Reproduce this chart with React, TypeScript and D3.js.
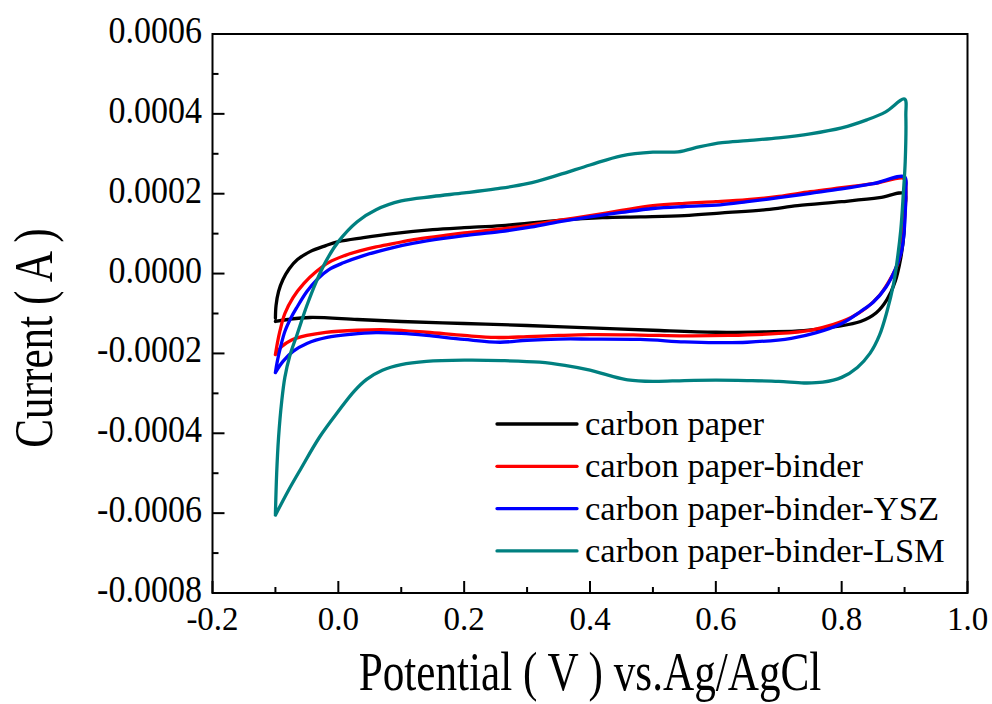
import * as d3 from "d3";

// current values are in units of 1e-4 A
const xTicks = [-0.2, 0.0, 0.2, 0.4, 0.6, 0.8, 1.0];
const xTickLabels = ["-0.2", "0.0", "0.2", "0.4", "0.6", "0.8", "1.0"];
const xMinor = [-0.1, 0.1, 0.3, 0.5, 0.7, 0.9];
const yTicks = [6, 4, 2, 0, -2, -4, -6, -8];
const yTickLabels = ["0.0006", "0.0004", "0.0002", "0.0000", "-0.0002", "-0.0004", "-0.0006", "-0.0008"];
const yMinor = [5, 3, 1, -1, -3, -5, -7];

const seriesNames = [
  "carbon paper",
  "carbon paper-binder",
  "carbon paper-binder-YSZ",
  "carbon paper-binder-LSM",
];
const seriesColors = ["#000000", "#ff0000", "#0000ff", "#008080"];

const paperForward = [
  [-0.1, -1.12], [-0.099, -0.8], [-0.095, -0.45], [-0.088, -0.15], [-0.078, 0.12],
  [-0.065, 0.35], [-0.045, 0.55], [-0.02, 0.7], [0.0, 0.8], [0.04, 0.9],
  [0.087, 1.0], [0.15, 1.1], [0.2, 1.15], [0.26, 1.2], [0.35, 1.33],
  [0.42, 1.4], [0.48, 1.42], [0.55, 1.45], [0.61, 1.52], [0.68, 1.6],
  [0.73, 1.7], [0.8, 1.8], [0.86, 1.9], [0.9, 2.0],
];
const paperReverse = [
  [0.9, 1.6], [0.899, 1.0], [0.894, 0.4], [0.885, -0.2], [0.872, -0.65],
  [0.855, -0.98], [0.83, -1.2], [0.79, -1.33], [0.74, -1.43], [0.68, -1.46],
  [0.6, -1.47], [0.5, -1.42], [0.4, -1.36], [0.3, -1.3], [0.2, -1.25],
  [0.1, -1.2], [0.03, -1.15], [-0.045, -1.1], [-0.08, -1.15], [-0.1, -1.2],
];

const binderForward = [
  [-0.1, -2.03], [-0.097, -1.75], [-0.093, -1.45], [-0.085, -1.0], [-0.072, -0.6],
  [-0.055, -0.25], [-0.035, 0.05], [-0.015, 0.28], [0.01, 0.45], [0.034, 0.57],
  [0.06, 0.67], [0.087, 0.75], [0.12, 0.85], [0.167, 0.95], [0.2, 1.02],
  [0.26, 1.12], [0.3, 1.2], [0.35, 1.33], [0.4, 1.45], [0.45, 1.58],
  [0.5, 1.7], [0.55, 1.76], [0.6, 1.8], [0.65, 1.85], [0.7, 1.93],
  [0.75, 2.05], [0.8, 2.15], [0.85, 2.25], [0.9, 2.38],
];
const binderReverse = [
  [0.902, 2.17], [0.901, 1.6], [0.898, 1.1], [0.895, 0.6], [0.888, 0.2],
  [0.875, -0.2], [0.86, -0.55], [0.84, -0.85], [0.815, -1.1], [0.786, -1.28],
  [0.75, -1.42], [0.7, -1.5], [0.62, -1.55], [0.55, -1.56], [0.48, -1.54],
  [0.4, -1.53], [0.35, -1.55], [0.3, -1.58], [0.25, -1.6], [0.2, -1.55],
  [0.14, -1.47], [0.08, -1.41], [0.03, -1.42], [-0.02, -1.47], [-0.05, -1.55],
  [-0.075, -1.67], [-0.09, -1.83], [-0.1, -2.03],
];

const yszForward = [
  [-0.1, -2.48], [-0.097, -2.2], [-0.092, -1.85], [-0.085, -1.45], [-0.075, -1.1],
  [-0.066, -0.85], [-0.05, -0.45], [-0.034, -0.15], [-0.015, 0.1], [0.008, 0.27],
  [0.04, 0.45], [0.087, 0.65], [0.12, 0.76], [0.167, 0.88], [0.2, 0.95],
  [0.257, 1.05], [0.3, 1.15], [0.352, 1.3], [0.4, 1.42], [0.45, 1.53],
  [0.5, 1.63], [0.55, 1.68], [0.607, 1.72], [0.65, 1.8], [0.7, 1.9],
  [0.75, 2.01], [0.8, 2.12], [0.85, 2.25], [0.9, 2.42],
];
const yszReverse = [
  [0.902, 2.1], [0.901, 1.5], [0.899, 1.0], [0.895, 0.55], [0.885, 0.1],
  [0.87, -0.35], [0.85, -0.72], [0.83, -0.95], [0.8, -1.25], [0.76, -1.48],
  [0.72, -1.62], [0.65, -1.72], [0.6, -1.73], [0.55, -1.71], [0.48, -1.65],
  [0.4, -1.64], [0.35, -1.64], [0.3, -1.67], [0.257, -1.72], [0.2, -1.65],
  [0.14, -1.55], [0.1, -1.5], [0.06, -1.48], [0.02, -1.52], [-0.018, -1.6],
  [-0.05, -1.75], [-0.072, -1.95], [-0.088, -2.2], [-0.1, -2.48],
];

const lsmForward = [
  [-0.1, -6.03], [-0.098, -5.0], [-0.095, -4.1], [-0.09, -3.2], [-0.085, -2.6],
  [-0.077, -2.05], [-0.065, -1.5], [-0.05, -0.8], [-0.035, -0.2], [-0.02, 0.3],
  [0.0, 0.8], [0.03, 1.3], [0.06, 1.6], [0.1, 1.82], [0.15, 1.93],
  [0.2, 2.02], [0.25, 2.12], [0.3, 2.25], [0.35, 2.47], [0.4, 2.72],
  [0.45, 2.95], [0.5, 3.04], [0.54, 3.05], [0.575, 3.18], [0.61, 3.28],
  [0.65, 3.33], [0.7, 3.4], [0.75, 3.5], [0.8, 3.65], [0.84, 3.85],
  [0.87, 4.05], [0.9, 4.37],
];
const lsmReverse = [
  [0.902, 3.95], [0.901, 2.8], [0.898, 2.0], [0.894, 1.1], [0.888, 0.3],
  [0.882, -0.3], [0.872, -0.95], [0.86, -1.55], [0.845, -2.0], [0.825, -2.35],
  [0.8, -2.6], [0.77, -2.72], [0.74, -2.74], [0.7, -2.7], [0.65, -2.68],
  [0.6, -2.67], [0.55, -2.68], [0.5, -2.7], [0.46, -2.66], [0.43, -2.55],
  [0.4, -2.42], [0.36, -2.3], [0.32, -2.22], [0.26, -2.18], [0.2, -2.17],
  [0.14, -2.2], [0.1, -2.28], [0.07, -2.42], [0.045, -2.65], [0.025, -2.95],
  [0.0, -3.45], [-0.03, -4.1], [-0.06, -4.9], [-0.08, -5.45], [-0.1, -6.05],
];

const loops = [
  paperForward.concat(paperReverse),
  binderForward.concat(binderReverse),
  yszForward.concat(yszReverse),
  lsmForward.concat(lsmReverse),
];

const width = 992;
const height = 704;
const margin = { top: 34, right: 24.5, bottom: 111, left: 212.5 };
const font = "'Liberation Serif', 'Times New Roman', serif";

export default function App() {
  const x = d3
    .scaleLinear()
    .domain([-0.2, 1.0])
    .range([margin.left, width - margin.right]);
  const y = d3
    .scaleLinear()
    .domain([-8, 6])
    .range([height - margin.bottom, margin.top]);

  const line = d3
    .line<number[]>()
    .x((d) => x(d[0]))
    .y((d) => y(d[1]))
    .curve(d3.curveCatmullRom.alpha(0.5));

  const x0 = x.range()[0];
  const x1 = x.range()[1];
  const y0 = y.range()[0];
  const y1 = y.range()[1];

  return (
    <svg
      width={width}
      height={height}
      style={{ position: "absolute", left: 0, top: 0, background: "#fff" }}
      fontFamily={font}
    >
      {/* curves */}
      <g fill="none" strokeWidth={3.3} strokeLinejoin="round" strokeLinecap="round">
        {loops.map((d, i) => (
          <path key={i} d={line(d) || ""} stroke={seriesColors[i]} />
        ))}
      </g>

      {/* frame */}
      <rect
        x={x0}
        y={y1}
        width={x1 - x0}
        height={y0 - y1}
        fill="none"
        stroke="#000"
        strokeWidth={2}
      />

      {/* ticks, pointing inward */}
      <g stroke="#000" strokeWidth={2}>
        {xTicks.map((t) => (
          <line key={"xt" + t} x1={x(t)} x2={x(t)} y1={y0} y2={y0 - 12} />
        ))}
        {xMinor.map((t) => (
          <line key={"xm" + t} x1={x(t)} x2={x(t)} y1={y0} y2={y0 - 6} />
        ))}
        {yTicks.map((t) => (
          <line key={"yt" + t} x1={x0} x2={x0 + 12} y1={y(t)} y2={y(t)} />
        ))}
        {yMinor.map((t) => (
          <line key={"ym" + t} x1={x0} x2={x0 + 6} y1={y(t)} y2={y(t)} />
        ))}
      </g>

      {/* tick labels */}
      <g fontSize={33} textAnchor="middle">
        {xTicks.map((t, i) => (
          <text key={"xl" + t} x={x(t)} y={630}>
            {xTickLabels[i]}
          </text>
        ))}
      </g>
      <g fontSize={37} textAnchor="end">
        {yTicks.map((t, i) => (
          <text
            key={"yl" + t}
            transform={`translate(202,${y(t) + 9}) scale(0.92,1)`}
          >
            {yTickLabels[i]}
          </text>
        ))}
      </g>

      {/* axis titles */}
      <text
        fontSize={54}
        textAnchor="middle"
        transform={`translate(${(x0 + x1) / 2},690) scale(0.8,1)`}
      >
        Potential ( V ) vs.Ag/AgCl
      </text>
      <text
        fontSize={54}
        textAnchor="middle"
        transform={`translate(52,338) rotate(-90) scale(0.8,1)`}
      >
        Current ( A )
      </text>

      {/* legend */}
      <g>
        {seriesNames.map((name, i) => {
          const ly = 424 + i * 42.3;
          return (
            <g key={name}>
              <line
                x1={497}
                x2={577}
                y1={ly}
                y2={ly}
                stroke={seriesColors[i]}
                strokeWidth={3.3}
                strokeLinecap="round"
              />
              <text x={585} y={ly + 11} fontSize={34.5}>
                {name}
              </text>
            </g>
          );
        })}
      </g>
    </svg>
  );
}
